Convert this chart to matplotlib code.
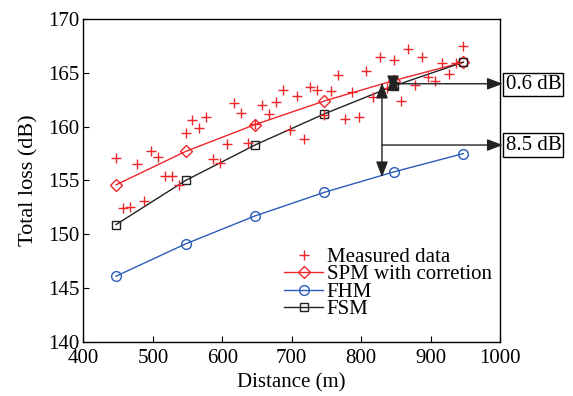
import matplotlib
matplotlib.use("Agg")
import matplotlib.pyplot as plt

plt.rcParams['font.family'] = ['Liberation Serif', 'DejaVu Serif']
plt.rcParams['mathtext.fontset'] = 'stix'

# model curves
dist_model = [447, 547, 647, 747, 847, 947]
spm = [154.6, 157.7, 160.2, 162.4, 164.3, 166.0]
fhm = [146.1, 149.1, 151.7, 153.9, 155.8, 157.5]
fsm = [150.9, 155.0, 158.3, 161.2, 163.8, 166.0]

# measured data
dist_meas = [447, 457, 467, 477, 487, 497, 507, 517, 527, 537,
             547, 557, 567, 577, 587, 597, 607, 617, 627, 637,
             647, 657, 667, 677, 687, 697, 707, 717, 727, 737,
             747, 757, 767, 777, 787, 797, 807, 817, 827, 837,
             847, 857, 867, 877, 887, 897, 907, 917, 927, 937, 947]
loss_meas = [157.1, 152.4, 152.5, 156.5, 153.1, 157.7, 157.2, 155.4, 155.4, 154.6,
             159.4, 160.6, 159.9, 160.9, 157.0, 156.6, 158.4, 162.2, 161.3, 158.5,
             160.3, 162.0, 161.2, 162.3, 163.4, 159.7, 162.9, 158.9, 163.7, 163.4,
             161.1, 163.3, 164.8, 160.7, 163.2, 160.9, 165.2, 162.8, 166.5, 163.6,
             166.2, 162.4, 167.2, 163.9, 166.5, 164.6, 164.3, 165.9, 164.9, 165.9, 167.5]

red = '#f0252a'
blue = '#2a5cba'

fig = plt.figure(figsize=(5.73, 3.96), dpi=100)
ax = fig.add_axes([0.1457, 0.1371, 0.7269, 0.8142])

ax.plot(dist_meas, loss_meas, '+', color=red, ms=7, mew=1.0, label='Measured data', zorder=3)
ax.plot(dist_model, spm, '-', color=red, lw=1.0, marker='D', ms=6.5, mfc='none', mew=1.0,
        label='SPM with corretion')
ax.plot(dist_model, fhm, '-', color=blue, lw=1.0, marker='o', ms=7, mfc='none', mew=1.0,
        label='FHM')
ax.plot(dist_model, fsm, '-', color='#222222', lw=1.0, marker='s', ms=5.5, mfc='none', mew=1.0,
        label='FSM')

ax.set_xlim(400, 1000)
ax.set_ylim(140, 170)
ax.set_xticks([400, 500, 600, 700, 800, 900, 1000])
ax.set_yticks([140, 145, 150, 155, 160, 165, 170])
ax.tick_params(direction='in', labelsize=15, length=4, width=0.8)
ax.tick_params(axis='x', pad=5)
ax.tick_params(axis='y', pad=3)
for s in ax.spines.values():
    s.set_linewidth(1.0)
ax.set_xlabel('Distance (m)', fontsize=15, labelpad=4)
ax.set_ylabel('Total loss (dB)', fontsize=16, labelpad=7)

ax.legend(loc='upper left', bbox_to_anchor=(0.481, 0.293), frameon=False, fontsize=15,
          borderpad=0, borderaxespad=0, labelspacing=-0.1, handlelength=1.9,
          handletextpad=0.15)

# annotations
head = '-|>,head_length=0.95,head_width=0.36'
dhead = '<|-|>,head_length=0.95,head_width=0.36'
akw = dict(color='#222222', lw=1.0, shrinkA=0, shrinkB=0, mutation_scale=10)
ax.annotate('', xy=(1004, 164.0), xytext=(849, 164.0),
            arrowprops=dict(arrowstyle=head, **akw), annotation_clip=False)
ax.annotate('', xy=(1004, 158.3), xytext=(830, 158.3),
            arrowprops=dict(arrowstyle=head, **akw), annotation_clip=False)
ax.annotate('', xy=(830, 155.3), xytext=(830, 164.1),
            arrowprops=dict(arrowstyle=dhead, **akw), annotation_clip=False)
ax.annotate('', xy=(846, 163.3), xytext=(846, 164.8),
            arrowprops=dict(arrowstyle=dhead, **akw), annotation_clip=False)

box = dict(boxstyle='square,pad=0.1', fc='white', ec='black', lw=1.0)
ax.text(1008, 163.95, '0.6 dB', fontsize=15, ha='left', va='center', bbox=box, clip_on=False)
ax.text(1008, 158.3, '8.5 dB', fontsize=15, ha='left', va='center', bbox=box, clip_on=False)

fig.savefig('out.png', dpi=100)
plt.close(fig)
